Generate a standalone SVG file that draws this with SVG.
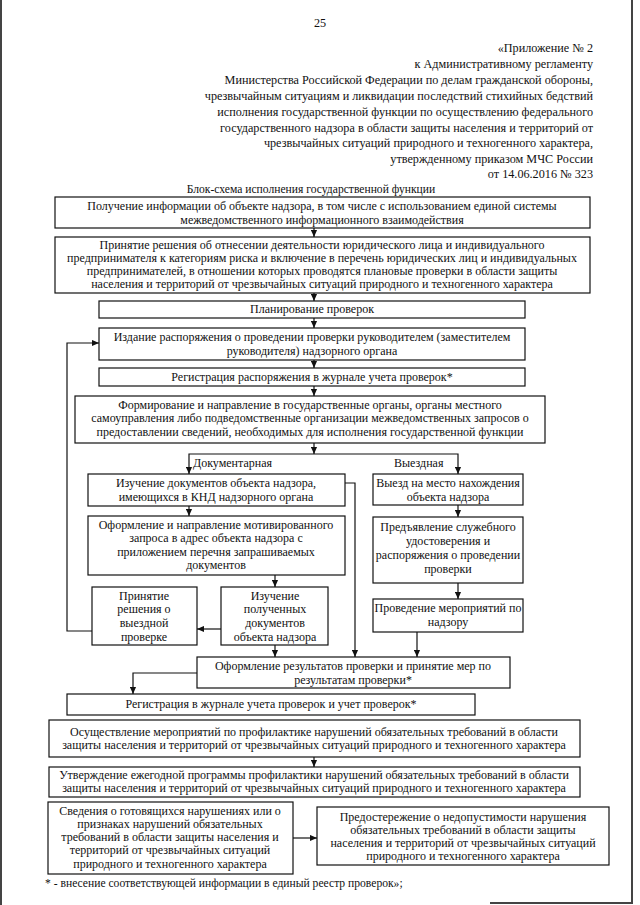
<svg xmlns="http://www.w3.org/2000/svg" width="640" height="905" viewBox="0 0 640 905">
<style>
text{font-family:"Liberation Serif","Times New Roman",serif;font-size:12px;fill:#111}
.c{text-anchor:middle}
.r{text-anchor:end}
.h{font-size:12.2px}
.box{fill:#fff;stroke:#111;stroke-width:1.2}
.ln{fill:none;stroke:#111;stroke-width:1.2}
.frame{fill:none;stroke:#444;stroke-width:2}
</style>
<defs>
<marker id="ah" viewBox="0 0 8 8" refX="8" refY="4" markerWidth="7" markerHeight="7" markerUnits="userSpaceOnUse" orient="auto">
<path d="M0,0.5 L8,4 L0,7.5 Z" fill="#111"/>
</marker>
</defs>
<rect width="640" height="905" fill="#fff"/>
<path class="frame" d="M1,0 V905 M632,0 V903 H490"/>
<text class="c h" x="320" y="27">25</text>
<g id="header">
<text class="r h" x="593" y="52">«Приложение № 2</text>
<text class="r h" x="593" y="68">к Административному регламенту</text>
<text class="r h" x="593" y="84">Министерства Российской Федерации по делам гражданской обороны,</text>
<text class="r h" x="593" y="100">чрезвычайным ситуациям и ликвидации последствий стихийных бедствий</text>
<text class="r h" x="593" y="116">исполнения государственной функции по осуществлению федерального</text>
<text class="r h" x="593" y="132">государственного надзора в области защиты населения и территорий от</text>
<text class="r h" x="593" y="147">чрезвычайных ситуаций природного и техногенного характера,</text>
<text class="r h" x="593" y="163">утвержденному приказом МЧС России</text>
<text class="r h" x="593" y="178">от 14.06.2016 № 323</text>
</g>
<text class="c" x="311" y="193" style="font-size:11.6px">Блок-схема исполнения государственной функции</text>

<g id="n1"><rect class="box" x="55" y="197" width="535" height="31"/>
<text class="c" x="322" y="210">Получение информации об объекте надзора, в том числе с использованием единой системы</text>
<text class="c" x="322" y="224">межведомственного информационного взаимодействия</text></g>

<g id="n2"><rect class="box" x="55" y="237" width="535" height="56"/>
<text class="c" x="322" y="249">Принятие решения об отнесении деятельности юридического лица и индивидуального</text>
<text class="c" x="322" y="262">предпринимателя к категориям риска и включение в перечень юридических лиц и индивидуальных</text>
<text class="c" x="322" y="275">предпринимателей, в отношении которых проводятся плановые проверки в области защиты</text>
<text class="c" x="322" y="288">населения и территорий от чрезвычайных ситуаций природного и техногенного характера</text></g>

<g id="n3"><rect class="box" x="99" y="301" width="426" height="17"/>
<text class="c" x="312" y="313">Планирование проверок</text></g>

<g id="n4"><rect class="box" x="99" y="328" width="426" height="32"/>
<text class="c" x="312" y="341">Издание распоряжения о проведении проверки руководителем (заместителем</text>
<text class="c" x="312" y="355">руководителя) надзорного органа</text></g>

<g id="n5"><rect class="box" x="99" y="368" width="426" height="18"/>
<text class="c" x="312" y="381">Регистрация распоряжения в журнале учета проверок*</text></g>

<g id="n6"><rect class="box" x="75" y="396" width="470" height="47"/>
<text class="c" x="310" y="409">Формирование и направление в государственные органы, органы местного</text>
<text class="c" x="310" y="422">самоуправления либо подведомственные организации межведомственных запросов о</text>
<text class="c" x="310" y="436">предоставлении сведений, необходимых для исполнения государственной функции</text></g>

<text x="193" y="467">Документарная</text>
<text x="394" y="467">Выездная</text>

<g id="n7"><rect class="box" x="88" y="474" width="257" height="32"/>
<text class="c" x="216" y="487">Изучение документов объекта надзора,</text>
<text class="c" x="216" y="501">имеющихся в КНД надзорного органа</text></g>

<g id="n8"><rect class="box" x="88" y="516" width="257" height="59"/>
<text class="c" x="216" y="529">Оформление и направление мотивированного</text>
<text class="c" x="216" y="542">запроса в адрес объекта надзора с</text>
<text class="c" x="216" y="556">приложением перечня запрашиваемых</text>
<text class="c" x="216" y="569">документов</text></g>

<g id="n9"><rect class="box" x="92" y="587" width="105" height="58"/>
<text class="c" x="144" y="600">Принятие</text>
<text class="c" x="144" y="613">решения о</text>
<text class="c" x="144" y="627">выездной</text>
<text class="c" x="144" y="641">проверке</text></g>

<g id="n10"><rect class="box" x="221" y="587" width="107" height="58"/>
<text class="c" x="275" y="600">Изучение</text>
<text class="c" x="275" y="613">полученных</text>
<text class="c" x="275" y="627">документов</text>
<text class="c" x="275" y="641">объекта надзора</text></g>

<g id="n11"><rect class="box" x="373" y="474" width="150" height="31"/>
<text class="c" x="448" y="487">Выезд на место нахождения</text>
<text class="c" x="448" y="501">объекта надзора</text></g>

<g id="n12"><rect class="box" x="373" y="517" width="150" height="66"/>
<text class="c" x="448" y="531">Предъявление служебного</text>
<text class="c" x="448" y="545">удостоверения и</text>
<text class="c" x="448" y="559">распоряжения о проведении</text>
<text class="c" x="448" y="573">проверки</text></g>

<g id="n13"><rect class="box" x="373" y="599" width="150" height="33"/>
<text class="c" x="448" y="612">Проведение мероприятий по</text>
<text class="c" x="448" y="626">надзору</text></g>

<g id="n14"><rect class="box" x="197" y="657" width="313" height="31"/>
<text class="c" x="353" y="670">Оформление результатов проверки и принятие мер по</text>
<text class="c" x="353" y="684">результатам проверки*</text></g>

<g id="n15"><rect class="box" x="67" y="694" width="408" height="21"/>
<text class="c" x="271" y="708">Регистрация в журнале учета проверок и учет проверок*</text></g>

<g id="n16"><rect class="box" x="49" y="720" width="531" height="37"/>
<text class="c" x="314" y="736">Осуществление мероприятий по профилактике нарушений обязательных требований в области</text>
<text class="c" x="314" y="749">защиты населения и территорий от чрезвычайных ситуаций природного и техногенного характера</text></g>

<g id="n17"><rect class="box" x="49" y="767" width="531" height="30"/>
<text class="c" x="314" y="779">Утверждение ежегодной программы профилактики нарушений обязательных требований в области</text>
<text class="c" x="314" y="792">защиты населения и территорий от чрезвычайных ситуаций природного и техногенного характера</text></g>

<g id="n18"><rect class="box" x="48" y="802" width="245" height="72"/>
<text class="c" x="170" y="815">Сведения о готовящихся нарушениях или о</text>
<text class="c" x="170" y="828">признаках нарушений обязательных</text>
<text class="c" x="170" y="841">требований в области защиты населения и</text>
<text class="c" x="170" y="854">территорий от чрезвычайных ситуаций</text>
<text class="c" x="170" y="868">природного и техногенного характера</text></g>

<g id="n19"><rect class="box" x="317" y="807" width="292" height="58"/>
<text class="c" x="463" y="821">Предостережение о недопустимости нарушения</text>
<text class="c" x="463" y="834">обязательных требований в области защиты</text>
<text class="c" x="463" y="847">населения и территорий от чрезвычайных ситуаций</text>
<text class="c" x="463" y="860">природного и техногенного характера</text></g>

<text x="45" y="887" style="font-size:11.6px">* - внесение соответствующей информации в единый реестр проверок»;</text>

<g id="connectors">
<path class="ln" d="M314,228 V237" marker-end="url(#ah)"/>
<path class="ln" d="M314,293 V301" marker-end="url(#ah)"/>
<path class="ln" d="M314,318 V328" marker-end="url(#ah)"/>
<path class="ln" d="M314,360 V368" marker-end="url(#ah)"/>
<path class="ln" d="M314,386 V396" marker-end="url(#ah)"/>
<path class="ln" d="M314,443 V454" marker-end="url(#ah)"/>
<path class="ln" d="M314,454 H189 V474" marker-end="url(#ah)"/>
<path class="ln" d="M314,454 H458 V474" marker-end="url(#ah)"/>
<path class="ln" d="M189,506 V516" marker-end="url(#ah)"/>
<path class="ln" d="M345,483 H355 V657" marker-end="url(#ah)"/>
<path class="ln" d="M275,575 V587" marker-end="url(#ah)"/>
<path class="ln" d="M221,629 H197" marker-end="url(#ah)"/>
<path class="ln" d="M92,631 H67 V343 H99" marker-end="url(#ah)"/>
<path class="ln" d="M275,645 V657" marker-end="url(#ah)"/>
<path class="ln" d="M458,505 V517" marker-end="url(#ah)"/>
<path class="ln" d="M458,583 V599" marker-end="url(#ah)"/>
<path class="ln" d="M417,632 V657" marker-end="url(#ah)"/>
<path class="ln" d="M197,673 H133 V694" marker-end="url(#ah)"/>
<path class="ln" d="M314,757 V767" marker-end="url(#ah)"/>
<path class="ln" d="M293,838 H317" marker-end="url(#ah)"/>
</g>
</svg>
